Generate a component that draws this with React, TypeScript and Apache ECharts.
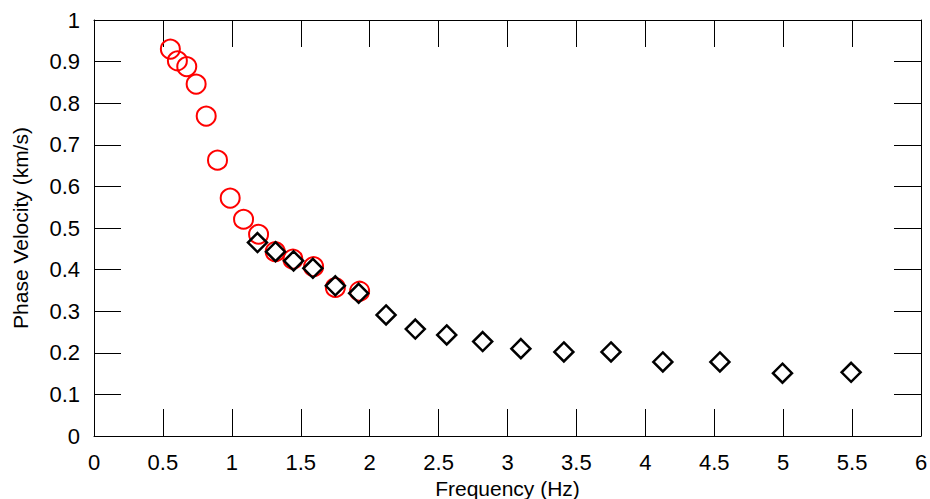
import React, { useEffect, useRef } from "react";
import * as echarts from "echarts";

const circleX = [0.554, 0.605, 0.673, 0.741, 0.814, 0.896, 0.988, 1.085, 1.194, 1.315, 1.443, 1.593, 1.751, 1.927];
const circleY = [0.930, 0.902, 0.888, 0.846, 0.769, 0.663, 0.572, 0.521, 0.485, 0.443, 0.425, 0.407, 0.357, 0.348];

const diamondX = [1.186, 1.317, 1.448, 1.588, 1.751, 1.920, 2.119, 2.331, 2.559, 2.820, 3.097, 3.409, 3.751, 4.127, 4.541, 4.995, 5.493];
const diamondY = [0.465, 0.443, 0.421, 0.403, 0.361, 0.343, 0.291, 0.257, 0.243, 0.227, 0.210, 0.202, 0.202, 0.178, 0.178, 0.151, 0.153];

const xTitle = "Frequency (Hz)";
const yTitle = "Phase Velocity (km/s)";

export default function App() {
  const ref = useRef<HTMLDivElement>(null);
  useEffect(() => {
    if (!ref.current) return;
    const chart = echarts.init(ref.current, null, { renderer: "svg" });
    const font = "Liberation Sans, Arial, sans-serif";
    const axisLine = { show: true, onZero: false, lineStyle: { color: "#000", width: 1 } };
    const tick = { show: true, inside: true, length: 27, lineStyle: { color: "#000", width: 1 } };
    chart.setOption({
      animation: false,
      backgroundColor: "#fff",
      grid: { left: 94, right: 9, top: 20, bottom: 63, containLabel: false, outerBoundsMode: "none" },
      xAxis: [
        {
          type: "value",
          min: 0,
          max: 6,
          interval: 0.5,
          position: "bottom",
          name: xTitle,
          nameLocation: "middle",
          nameGap: 35,
          nameTextStyle: { fontFamily: font, fontSize: 21, lineHeight: 22, color: "#000" },
          axisLine,
          axisTick: tick,
          axisLabel: { fontFamily: font, fontSize: 22, color: "#000", margin: 15 },
          splitLine: { show: false },
        },
        {
          type: "value",
          min: 0,
          max: 6,
          interval: 0.5,
          position: "top",
          axisLine,
          axisTick: tick,
          axisLabel: { show: false },
          splitLine: { show: false },
        },
      ],
      yAxis: [
        {
          type: "value",
          min: 0,
          max: 1,
          interval: 0.1,
          position: "left",
          name: yTitle,
          nameLocation: "middle",
          nameRotate: 90,
          nameGap: 63,
          nameTextStyle: { fontFamily: font, fontSize: 21, color: "#000" },
          axisLine,
          axisTick: tick,
          axisLabel: { fontFamily: font, fontSize: 22, color: "#000", margin: 14 },
          splitLine: { show: false },
        },
        {
          type: "value",
          min: 0,
          max: 1,
          interval: 0.1,
          position: "right",
          axisLine,
          axisTick: tick,
          axisLabel: { show: false },
          splitLine: { show: false },
        },
      ],
      series: [
        {
          type: "scatter",
          data: circleX.map((x, i) => [x, circleY[i]]),
          symbol: "circle",
          symbolSize: 19,
          itemStyle: { color: "rgba(0,0,0,0)", borderColor: "#ff0000", borderWidth: 2, opacity: 1 },
        },
        {
          type: "scatter",
          data: diamondX.map((x, i) => [x, diamondY[i]]),
          symbol: "diamond",
          symbolSize: 19,
          itemStyle: { color: "rgba(0,0,0,0)", borderColor: "#000", borderWidth: 2.5, opacity: 1 },
        },
      ],
    });
    return () => chart.dispose();
  }, []);
  return <div ref={ref} style={{ position: "fixed", left: 0, top: 0, width: 930, height: 499 }} />;
}
